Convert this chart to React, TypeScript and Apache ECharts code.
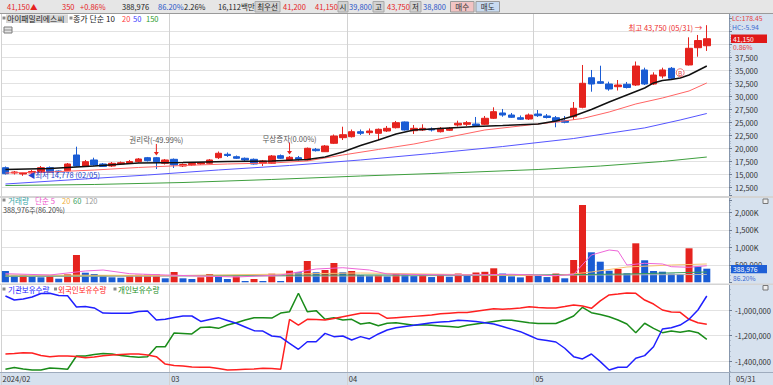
import React, { useEffect, useRef } from "react";
import * as echarts from "echarts";

const dates: string[] = [
  "2024/02/01","2024/02/02","2024/02/05","2024/02/06","2024/02/07","2024/02/08","2024/02/13","2024/02/14","2024/02/15","2024/02/16",
  "2024/02/19","2024/02/20","2024/02/21","2024/02/22","2024/02/23","2024/02/26","2024/02/27","2024/02/28","2024/02/29",
  "2024/03/04","2024/03/05","2024/03/06","2024/03/07","2024/03/08","2024/03/11","2024/03/12","2024/03/13","2024/03/14","2024/03/15",
  "2024/03/18","2024/03/19","2024/03/20","2024/03/21","2024/03/22","2024/03/25","2024/03/26","2024/03/27","2024/03/28","2024/03/29",
  "2024/04/01","2024/04/02","2024/04/03","2024/04/04","2024/04/05","2024/04/08","2024/04/09","2024/04/11","2024/04/12","2024/04/15",
  "2024/04/16","2024/04/17","2024/04/18","2024/04/19","2024/04/22","2024/04/23","2024/04/24","2024/04/25","2024/04/26","2024/04/29","2024/04/30",
  "2024/05/02","2024/05/03","2024/05/07","2024/05/08","2024/05/09","2024/05/10","2024/05/13","2024/05/14","2024/05/16","2024/05/17",
  "2024/05/20","2024/05/21","2024/05/22","2024/05/23","2024/05/24","2024/05/27","2024/05/28","2024/05/29","2024/05/30","2024/05/31",
];

const opens = [16350,15330,15140,15330,15460,16350,15710,15770,18790,16670, 17830,17060,16670,17060,17250,17500,18270,18270,17190,17960,
  16670,16870,17060,17190,18270,18920,18460,18160,17960,17190, 17190,18660,17830,18270,17830,19890,19420,21040,22120,22310,
  23270,23080,22960,23400,24040,25140,23460,23600,23790,23270, 23540,24560,24690,24750,24690,25850,26870,26480,25960,25710,
  26670,26290,25960,25390,26150,27960,33650,32890,32440,31920, 32390,32250,35140,32440,33980,35460,34370,36100,39420,39800];
const closes = [15190,15520,15330,15620,16350,15460,15520,17060,16670,17500, 16870,16580,17190,17310,17540,18020,17690,17500,17830,16870,
  16960,17160,17310,17830,19120,18690,18160,17830,17060,17640, 18600,18160,18350,17960,20080,19620,20520,22440,22690,23270,
  22960,23400,23730,23920,25000,23600,23920,23920,23600,23920, 23920,24890,25000,24460,25850,27120,26480,26040,25660,26480,
  26350,26000,25190,25080,27770,32580,32440,32580,31480,32250, 31770,35900,32440,34170,35140,33540,34850,39310,40800,41150];
const lows = [15040,15040,14778,15140,15330,15330,15330,15710,16540,16480, 16670,16480,16480,16870,17060,17350,17540,16100,16960,16290,
  16480,16670,16870,17060,18020,18410,18020,17640,16960,16670, 17060,18020,17640,17730,17730,19460,19370,20900,21670,22150,
  22640,22640,21670,23210,23890,23500,22830,23400,23310,23120, 23400,24270,24370,24170,24560,25710,26150,25910,25520,25520,
  26100,25810,24120,24890,25520,27770,30960,32440,31150,31190, 31580,32060,32250,32250,33540,33400,33980,36000,37690,38800];
const highs = [16580,15710,15520,15900,16670,16580,15810,17250,20390,17830, 18270,17250,17440,17540,17830,18210,18410,18410,18020,18120,
  17160,17350,17440,18020,19460,19270,18690,18310,18120,17830, 18790,18890,18600,18600,20230,20140,20710,22730,24230,23690,
  23690,23890,23890,24370,25330,25230,24560,24690,24080,24170, 24170,25390,25330,26100,26290,27960,27640,26870,26390,26770,
  27440,26670,26290,26290,28980,36100,35140,35960,32890,33210, 32830,36770,35580,34690,35580,35710,35230,41420,41870,43750];

const volumes = [323000,189000,195000,160000,143000,189000,103000,229000,780000,274000,
  237000,209000,143000,131000,210000,215000,220000,225000,114000,294000,
  114000,94000,143000,237000,151000,94000,189000,37000,94000,37000,
  246000,37000,331000,286000,609000,286000,351000,551000,286000,323000,
  209000,189000,195000,171000,260000,220000,180000,200000,150000,230000,
  160000,250000,200000,280000,300000,400000,250000,170000,140000,220000,
  180000,150000,250000,114000,637000,2208000,857000,589000,331000,380000,
  257000,1114000,629000,323000,303000,246000,237000,971000,451000,388976];

// moving averages: [day index, value]
const ma10Pts = [[0,16000],[5,16190],[10,16670],[15,17250],[20,17350],[25,17540],[30,17640],[34,17920],[36,18400],[38,19370],[40,20620],[42,21670],[44,22830],[46,23600],[48,23790],[50,23980],[53,24270],[56,24460],[60,24750],[62,25330],[64,26290],[66,27540],[68,28980],[70,30330],[72,31670],[73,32640],[74,33120],[75,33310],[76,33600],[77,34170],[78,35040],[79,35900]];
const ma20Pts = [[0,15330],[5,15520],[10,15900],[15,16390],[20,16770],[25,17060],[30,17250],[34,17640],[38,18790],[42,19850],[46,20900],[50,22250],[54,23600],[58,24370],[62,25130],[65,25810],[68,27060],[71,28600],[74,29750],[77,31100],[79,32640]];
const ma50Pts = [[0,13210],[8,14080],[16,14940],[24,15910],[32,16770],[40,17830],[48,19080],[56,20420],[64,21960],[72,24000],[76,25520],[79,26770]];
const ma150Pts = [[0,12920],[10,13120],[20,13500],[30,14080],[40,14750],[50,15330],[60,16000],[67,16670],[74,17540],[79,18400]];

const volMa5Pts = [[0,246000],[5,209000],[9,323000],[11,351000],[14,246000],[18,209000],[26,151000],[31,209000],[35,380000],[38,417000],[41,351000],[43,237000],[47,220000],[52,210000],[57,230000],[62,189000],[64,229000],[66,780000],[68,923000],[69,894000],[70,494000],[72,543000],[74,523000],[75,446000],[77,429000],[79,474000]];
const volMa20Pts = [[0,209000],[20,194000],[40,266000],[55,209000],[62,189000],[66,294000],[70,437000],[75,494000],[79,523000]];
const volMa60Pts = [[0,180000],[40,209000],[60,209000],[70,237000],[79,294000]];
const volMa120Pts = [[0,166000],[40,180000],[79,223000]];

const instHold = [-890000,-922000,-914000,-898000,-871000,-869000,-886000,-888000,-976000,-973000,
  -984000,-1024000,-1026000,-1026000,-1026000,-1012000,-1008000,-1078000,-1073000,-1059000,
  -1047000,-1047000,-1090000,-1075000,-1060000,-1082000,-1104000,-1133000,-1162000,-1165000,
  -1204000,-1212000,-1261000,-1308000,-1249000,-1249000,-1183000,-1209000,-1204000,-1235000,
  -1209000,-1227000,-1188000,-1157000,-1140000,-1130000,-1120000,-1110000,-1100000,-1095000,
  -1090000,-1080000,-1085000,-1090000,-1100000,-1110000,-1130000,-1150000,-1170000,-1200000,
  -1230000,-1240000,-1251000,-1300000,-1366000,-1384000,-1345000,-1405000,-1471000,-1449000,
  -1449000,-1379000,-1358000,-1288000,-1149000,-1139000,-1118000,-1073000,-1000000,-890000];
const foreignHold = [-1345000,-1341000,-1335000,-1337000,-1357000,-1366000,-1361000,-1361000,-1365000,-1374000,
  -1369000,-1358000,-1353000,-1349000,-1345000,-1345000,-1353000,-1366000,-1424000,-1435000,
  -1439000,-1447000,-1449000,-1449000,-1459000,-1471000,-1468000,-1465000,-1463000,-1457000,
  -1459000,-1465000,-1073000,-1118000,-1073000,-1075000,-1078000,-1067000,-1053000,-1039000,
  -1026000,-1026000,-1027000,-1065000,-1060000,-1055000,-1050000,-1045000,-1040000,-1030000,
  -1025000,-1020000,-1020000,-1010000,-1000000,-990000,-995000,-990000,-985000,-975000,
  -980000,-984000,-984000,-973000,-961000,-969000,-987000,-929000,-882000,-875000,
  -867000,-869000,-922000,-953000,-1000000,-1016000,-1018000,-1073000,-1100000,-1112000];
const retailHold = [-1465000,-1451000,-1463000,-1471000,-1471000,-1455000,-1459000,-1465000,-1361000,-1361000,
  -1349000,-1341000,-1345000,-1357000,-1365000,-1371000,-1366000,-1288000,-1288000,-1180000,
  -1184000,-1188000,-1137000,-1133000,-1144000,-1118000,-1100000,-1078000,-1060000,-1060000,
  -1063000,-1024000,-1013000,-869000,-1013000,-1005000,-1073000,-1060000,-1078000,-1073000,
  -1110000,-1100000,-1123000,-1104000,-1100000,-1110000,-1120000,-1115000,-1120000,-1125000,
  -1130000,-1135000,-1120000,-1110000,-1100000,-1090000,-1080000,-1080000,-1090000,-1100000,
  -1105000,-1105000,-1106000,-1078000,-1047000,-979000,-1021000,-1035000,-1053000,-1078000,
  -1110000,-1178000,-1104000,-1144000,-1178000,-1165000,-1175000,-1162000,-1178000,-1230000];

const FONT = '"Noto Sans CJK KR", "Noto Sans", sans-serif';
const RED = "#e5231e";
const BLUE = "#1a5cd4";
const PANEL = "#d6e1ee";
const GRID = "#e2e2e2";
const CLEAR = "rgba(0,0,0,0)";

function comma(n: number): string {
  const s = Math.round(Math.abs(n)).toString().replace(/\B(?=(\d{3})+(?!\d))/g, ",");
  return (n < 0 ? "-" : "") + s;
}

function txt(x: number, y: number, text: string, fill: string, o: any = {}) {
  return {
    type: "text", x, y, z: o.z ?? 100, silent: true,
    style: {
      text, fill, font: `${o.size ?? 7.5}px ${FONT}`,
      textAlign: o.align ?? "left", align: o.align ?? "left",
      textVerticalAlign: "middle", verticalAlign: "middle",
      backgroundColor: o.bg, padding: o.pad,
    },
  };
}
function rect(x: number, y: number, w: number, h: number, fill: string, o: any = {}) {
  return { type: "rect", z: o.z ?? 90, silent: true, shape: { x, y, width: w, height: h },
    style: { fill, stroke: o.stroke, lineWidth: o.lw ?? 1 } };
}
function hline(x1: number, x2: number, y: number, stroke: string, w = 1, z = 90) {
  return { type: "line", z, silent: true, shape: { x1, y1: y, x2, y2: y }, style: { stroke, lineWidth: w } };
}

export default function App() {
  const ref = useRef<HTMLDivElement>(null);
  useEffect(() => {
    const chart = echarts.init(ref.current!, null, { renderer: "svg" });
    const cats = [...dates, " ", "  "];
    const monthStarts = dates.map((d, i) => (i === 0 || d.slice(5, 7) !== dates[i - 1].slice(5, 7) ? i : -1)).filter((i) => i >= 0);

    const xAx = (gridIndex: number) => ({
      type: "category", gridIndex, data: cats, boundaryGap: true,
      axisLine: { show: false }, axisTick: { show: false }, axisLabel: { show: false },
      splitLine: { show: true, interval: (idx: number) => monthStarts.includes(idx), lineStyle: { color: "#d2d2d2", width: 1 } },
    });
    const yCommon = {
      type: "value", position: "right",
      axisLine: { show: true, lineStyle: { color: "#8797ad" } },
      axisTick: { show: true, length: 3, lineStyle: { color: "#6d7c92" } },
      minorTick: { show: true, splitNumber: 5, length: 1.5, lineStyle: { color: "#8797ad" } },
    };
    const lab = (fmt: (v: number) => string) => ({ color: "#333", fontSize: 7.5, fontFamily: FONT, margin: 6, formatter: fmt });

    const priceGridColors = [CLEAR, ...Array(13).fill(GRID), CLEAR, CLEAR];
    const line = (xi: number, data: any, color: string, width = 1, z = 3) => ({
      type: "line", xAxisIndex: xi, yAxisIndex: xi, data, symbol: "none", smooth: false, z,
      lineStyle: { color, width }, silent: true,
    });

    chart.setOption({
      animation: false,
      backgroundColor: "#ffffff",
      grid: [
        { left: 1, right: 44, top: 5.7, height: 195, outerBoundsMode: "none" },
        { left: 1, right: 44, top: 194.8, height: 87.5, outerBoundsMode: "none" },
        { left: 1, right: 44, top: 284.5, height: 102, outerBoundsMode: "none" },
      ],
      xAxis: [xAx(0), xAx(1), xAx(2)],
      yAxis: [
        { ...yCommon, gridIndex: 0, min: 10000, max: 47500, interval: 2500,
          axisLabel: lab((v) => (v >= 12500 && v <= 37500 ? comma(v) : "")),
          splitLine: { show: true, lineStyle: { color: priceGridColors, width: 1 } } },
        { ...yCommon, gridIndex: 1, min: 0, max: 2500000, interval: 500000,
          axisLabel: lab((v) => (v === 0 || v >= 2500000 ? "" : v >= 1000000 ? comma(v / 1000) + "K" : comma(v))),
          splitLine: { show: true, lineStyle: { color: [CLEAR, GRID, GRID, GRID, GRID, CLEAR], width: 1 } } },
        { ...yCommon, gridIndex: 2, min: -1600000, max: -800000, interval: 200000,
          axisLabel: lab((v) => (v <= -1600000 || v >= -800000 ? "" : comma(v))),
          splitLine: { show: true, lineStyle: { color: [CLEAR, GRID, GRID, GRID, CLEAR], width: 1 } } },
      ],
      series: [
        { type: "candlestick", xAxisIndex: 0, yAxisIndex: 0, barWidth: 7, z: 2, silent: true,
          data: dates.map((_, i) => [opens[i], closes[i], lows[i], highs[i]]),
          itemStyle: { color: RED, color0: BLUE, borderColor: RED, borderColor0: BLUE, borderWidth: 1 } },
        line(0, ma150Pts, "#3f9f3f", 1),
        line(0, ma50Pts, "#5555ff", 1),
        line(0, ma20Pts, "#ff6464", 1),
        line(0, ma10Pts, "#111111", 1.5),
        { type: "bar", xAxisIndex: 1, yAxisIndex: 1, barWidth: 7, z: 2, silent: true,
          data: volumes.map((v, i) => ({ value: v, itemStyle: { color: i > 0 && v > volumes[i - 1] ? RED : BLUE } })) },
        line(1, volMa120Pts, "#b4b4b4", 1),
        line(1, volMa60Pts, "#3a9c5c", 1),
        line(1, volMa20Pts, "#f6c070", 1),
        line(1, volMa5Pts, "#ee66d8", 1),
        line(2, retailHold.map((v, i) => [i, v]), "#1a8c1a", 1.5),
        line(2, foreignHold.map((v, i) => [i, v]), "#ff2020", 1.5),
        line(2, instHold.map((v, i) => [i, v]), "#2020ff", 1.5),
      ],
    });

    const p = (g: number, i: number, v: number) => chart.convertToPixel({ gridIndex: g } as any, [i, v]) as number[];
    const band = p(0, 1, 20000)[0] - p(0, 0, 20000)[0];
    const g: any[] = [];

    // panels background
    g.push(rect(729, 14, 44, 358, PANEL, { z: -1 }));
    g.push(rect(0, 372, 773, 13, PANEL, { z: -1 }));
    g.push(hline(0, 773, 372.5, "#9eabbd", 1, 5));
    // separators
    g.push(rect(0, 196, 773, 2, "#d4d4d4", { z: 20 }));
    g.push(rect(0, 283.5, 773, 1.5, "#d4d4d4", { z: 20 }));

    // top bar
    g.push(rect(0, 0, 773, 13.5, "#e6e6e6", { z: 90 }));
    g.push(hline(0, 773, 13.5, "#9a9a9a", 1, 91));
    const ty = 6.8;
    const labelBox = (x: number, w: number, t: string) => {
      g.push(rect(x, 1.5, w, 10.5, "#d2d2d2", { z: 92, stroke: "#a8a8a8" }));
      g.push(txt(x + w / 2, ty, t, "#222", { align: "center" }));
    };
    g.push(txt(7, ty, "41,150▲", RED));
    g.push(txt(62, ty, "350", RED));
    g.push(txt(80, ty, "+0.86%", RED));
    g.push(txt(122, ty, "388,976", "#222"));
    g.push(txt(158, ty, "86.20%", "#2b55c8"));
    g.push(txt(184, ty, "2.26%", "#222"));
    g.push(txt(218, ty, "16,112백만", "#222"));
    labelBox(255, 25, "최우선");
    g.push(txt(283, ty, "41,200", RED));
    g.push(txt(315, ty, "41,150", RED));
    labelBox(338, 10, "시");
    g.push(txt(349, ty, "39,800", "#2b55c8"));
    labelBox(373, 11, "고");
    g.push(txt(387, ty, "43,750", RED));
    labelBox(410, 11, "저");
    g.push(txt(423, ty, "38,800", "#2b55c8"));
    g.push(rect(450.5, 1.5, 23.5, 10.5, "#f2c4c4", { z: 92, stroke: "#9a9a9a" }));
    g.push(txt(462.2, ty, "매수", "#333", { align: "center" }));
    g.push(rect(476, 1.5, 23.5, 10.5, "#c8dbf1", { z: 92, stroke: "#9a9a9a" }));
    g.push(txt(487.7, ty, "매도", "#333", { align: "center" }));

    // main legend
    g.push(rect(2.5, 16.5, 3, 3, "#8a8a8a"));
    g.push(rect(6, 14.5, 62, 8.5, "#d6d6d6"));
    g.push(txt(7, 18.8, "아이패밀리에스씨", "#222", { size: 7.8 }));
    g.push(rect(69.5, 16.5, 3, 3, "#8a8a8a"));
    g.push(txt(73, 18.8, "종가 단순 10", "#222", { size: 8 }));
    g.push(txt(122, 18.8, "20", "#ff4040"));
    g.push(txt(133, 18.8, "50", "#3a3aff"));
    g.push(txt(146, 18.8, "150", "#2a9a2a"));
    g.push(rect(4, 27, 8, 6, "#e2e2e2", { stroke: "#7a7a7a" }));
    g.push(hline(4, 12, 30, "#7a7a7a", 0.8, 91));

    // volume legend
    g.push(rect(2.5, 198.5, 3, 3, "#8a8a8a"));
    g.push(txt(8, 200.3, "거래량", "#33a5a5", { size: 7.6 }));
    g.push(txt(35, 200.3, "단순 5", "#ee55cc", { size: 7.6 }));
    g.push(txt(62, 200.3, "20", "#f0b040"));
    g.push(txt(73, 200.3, "60", "#3aa060"));
    g.push(txt(85, 200.3, "120", "#9a9a9a"));
    g.push(txt(3, 210.3, "388,976주(86.20%)", "#444", { size: 7.2 }));

    // holdings legend
    g.push(rect(2.5, 287.5, 3, 3, "#8a8a8a"));
    g.push(txt(8, 289.2, "기관보유수량", "#2020ff"));
    g.push(rect(54, 287.5, 3, 3, "#8a8a8a"));
    g.push(txt(58, 289.2, "외국인보유수량", "#ff2020"));
    g.push(rect(113.5, 287.5, 3, 3, "#8a8a8a"));
    g.push(txt(118, 289.2, "개인보유수량", "#1a8c1a"));

    // annotations
    const arrowDown = (i: number, label: string, dy: number) => {
      const [ax, ay] = p(0, i, highs[i]);
      g.push(txt(ax, ay - dy, label, "#555", { align: "center" }));
      g.push({ type: "line", z: 95, silent: true, shape: { x1: ax, y1: ay - dy + 4, x2: ax, y2: ay - 4 }, style: { stroke: RED, lineWidth: 1 } });
      g.push({ type: "polygon", z: 95, silent: true, shape: { points: [[ax - 2.5, ay - 5], [ax + 2.5, ay - 5], [ax, ay - 1.5]] }, style: { fill: RED } });
    };
    arrowDown(17, "권리락(-49.99%)", 17);
    arrowDown(32, "무상증자(0.00%)", 17.5);
    const [lx, ly] = p(0, 2, lows[2]);
    g.push(txt(lx + 4.5, ly - 1, "◀최저 14,778 (02/05)", "#2244cc"));
    const [hx, hy] = p(0, 79, highs[79]);
    g.push(txt(hx - 4.5, hy + 1.8, "최고 43,750 (05/31) →", "#ee3030", { align: "right" }));
    const [bx, by] = p(0, 76, (opens[76] + closes[76]) / 2);
    g.push({ type: "circle", z: 95, silent: true, shape: { cx: bx, cy: by, r: 4 }, style: { fill: "#fff", stroke: "#f07a7a", lineWidth: 1 } });
    g.push(txt(bx, by + 0.3, "B", "#e04040", { align: "center", size: 6.5, z: 96 }));

    // right panel texts
    g.push(txt(732, 18.2, "LC:178.45", "#e84040", { bg: PANEL, size: 6.8 }));
    g.push(txt(732, 26.6, "HC:-5.94", "#3a6ad0", { bg: PANEL, size: 6.8 }));
    const cy = p(0, 79, closes[79])[1];
    g.push(rect(731, cy - 4.3, 36, 8.6, "#e01818", { z: 99 }));
    g.push(txt(733, cy + 0.1, "41,150", "#ffffff", { size: 6.8 }));
    g.push(txt(733, cy + 8.3, "0.86%", "#e84040", { bg: PANEL, pad: [0, 12, 0, 0], size: 6.8 }));
    const vy = p(1, 79, volumes[79])[1];
    g.push(rect(731, vy - 3.8, 36, 8.3, "#1e5fd6", { z: 99 }));
    g.push(txt(733, vy + 0.5, "388,976", "#ffffff", { size: 6.8 }));
    g.push(txt(733, vy + 9.2, "86.20%", "#3a6ad0", { size: 6.6 }));
    g.push(rect(763, 199, 5, 4.5, "#eeeeee", { stroke: "#777" }));
    g.push(rect(763, 285.5, 5, 4.5, "#eeeeee", { stroke: "#777" }));
    g.push(txt(736, 378.7, "05/31", "#333"));

    // x-axis month labels
    monthStarts.forEach((m, k) => {
      const x = p(2, m, -1000000)[0] - band / 2 + 1.5;
      g.push(txt(x, 378.7, k === 0 ? dates[m].slice(0, 7) : dates[m].slice(5, 7), "#333"));
    });

    chart.setOption({ graphic: g });
    return () => chart.dispose();
  }, []);
  return <div ref={ref} style={{ position: "absolute", left: 0, top: 0, width: 773, height: 385 }} />;
}
